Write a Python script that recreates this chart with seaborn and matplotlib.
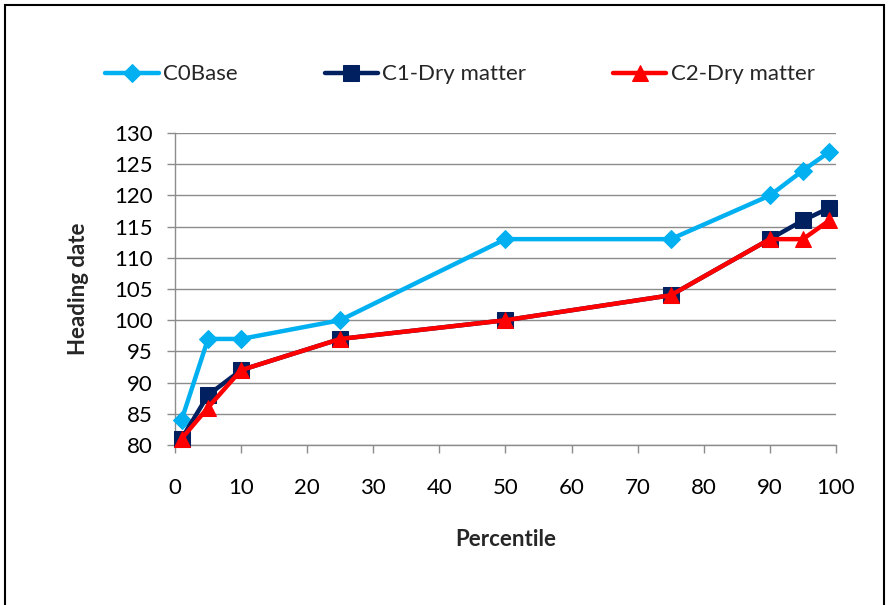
import matplotlib
matplotlib.use("Agg")
import matplotlib.pyplot as plt
import seaborn as sns
import pandas as pd
from matplotlib.patches import Rectangle

percentile = [1, 5, 10, 25, 50, 75, 90, 95, 99]
c0_base = [84, 97, 97, 100, 113, 113, 120, 124, 127]
c1_dry = [81, 88, 92, 97, 100, 104, 113, 116, 118]
c2_dry = [81, 86, 92, 97, 100, 104, 113, 113, 116]
series_names = ["C0Base", "C1-Dry matter", "C2-Dry matter"]
x_ticks = list(range(0, 101, 10))
y_ticks = list(range(80, 131, 5))

sns.set_theme(style="white")
plt.rcParams['font.family'] = ['Lato', 'DejaVu Sans']

fig = plt.figure(figsize=(8.9, 6.05), dpi=100)
ax = fig.add_axes([0.1966, 0.2645, 0.7427, 0.5155])

styles = [
    dict(color="#00B0F0", marker="D", markersize=9),
    dict(color="#002060", marker="s", markersize=12),
    dict(color="#FF0000", marker="^", markersize=12),
]
for name, vals, st in zip(series_names, [c0_base, c1_dry, c2_dry], styles):
    df = pd.DataFrame({"Percentile": percentile, "Heading date": vals})
    sns.lineplot(data=df, x="Percentile", y="Heading date", ax=ax, label=name,
                 color=st["color"], marker=st["marker"], markersize=st["markersize"],
                 markeredgecolor=st["color"], linewidth=3.2, clip_on=False, zorder=3)

ax.set_xlim(0, 100)
ax.set_ylim(80, 130)
ax.set_xticks(x_ticks)
ax.set_yticks(y_ticks)
ax.yaxis.grid(True, color="#8c8c8c", linewidth=1)
ax.xaxis.grid(False)
for s in ["top", "right"]:
    ax.spines[s].set_visible(False)
for s in ["left", "bottom"]:
    ax.spines[s].set_color("#8c8c8c")
    ax.spines[s].set_linewidth(1)
ax.tick_params(axis="both", which="major", direction="out", length=6, width=1,
               color="#8c8c8c", labelsize=16, labelcolor="black", bottom=True, left=True)
ax.tick_params(axis="x", pad=18)
ax.tick_params(axis="y", pad=10)
ax.set_xlabel("Percentile", fontsize=16, fontweight="bold", labelpad=22)
ax.set_ylabel("Heading date", fontsize=16, fontweight="bold", labelpad=18)

handles, labels = ax.get_legend_handles_labels()
ax.get_legend().remove()
fig.legend(handles, labels, loc="center", bbox_to_anchor=(0.517, 0.877), ncol=3,
           frameon=False, fontsize=16, columnspacing=3.9, handlelength=2.4,
           handletextpad=0.2)

fig.patches.append(Rectangle((5/890, -0.05), 879/890, 1.05 - 5/605, transform=fig.transFigure,
                             fill=False, edgecolor="black", linewidth=1.5))

fig.savefig("out.png", dpi=100)
